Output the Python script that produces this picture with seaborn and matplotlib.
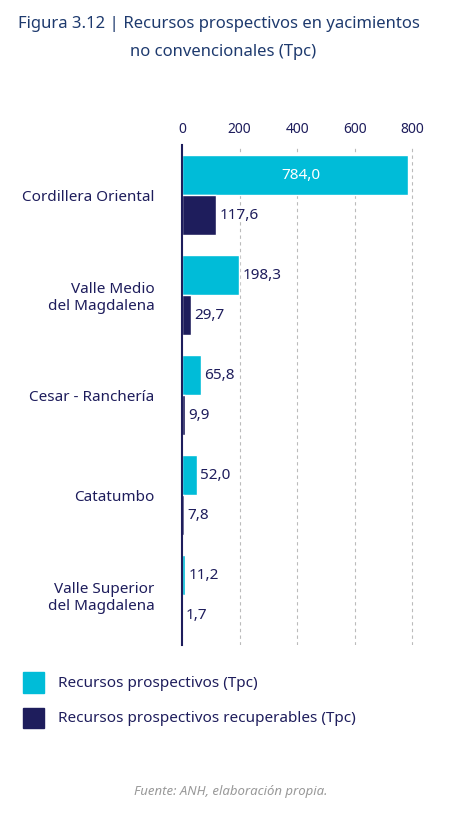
import numpy as np
import pandas as pd
import matplotlib.pyplot as plt
import seaborn as sns
from matplotlib.patches import Rectangle

cuencas = ['Cordillera Oriental', 'Valle Medio\ndel Magdalena', 'Cesar - Ranchería',
           'Catatumbo', 'Valle Superior\ndel Magdalena']
prospectivos = [784.0, 198.3, 65.8, 52.0, 11.2]
recuperables = [117.6, 29.7, 9.9, 7.8, 1.7]
series = ['Recursos prospectivos (Tpc)', 'Recursos prospectivos recuperables (Tpc)']
colores = ['#00bcd8', '#1e1d5c']

df = pd.DataFrame({
    'cuenca': cuencas * 2,
    'valor': prospectivos + recuperables,
    'serie': [series[0]] * 5 + [series[1]] * 5,
})

sns.set_style('white')
plt.rcParams['font.family'] = ['Noto Sans', 'DejaVu Sans']

fig = plt.figure(figsize=(4.62, 8.25), dpi=100)
ax = fig.add_axes([0.394, 0.218, 0.53, 0.606])
sns.barplot(data=df, x='valor', y='cuenca', hue='serie', palette=colores,
            orient='h', width=0.8, ax=ax, legend=False, saturation=1)

ax.set_xlim(0, 850)
ax.set_ylim(4.5, -0.5)
ax.set_xticks([0, 200, 400, 600, 800])
ax.xaxis.tick_top()
ax.tick_params(axis='x', length=0, labelsize=10, colors='#1e1d5c', pad=6)
ax.tick_params(axis='y', length=0, labelsize=11, colors='#1e1d5c', pad=20)
ax.set_xlabel('')
ax.set_ylabel('')
for x in [200, 400, 600, 800]:
    ax.axvline(x, color='#bbbbbb', lw=0.8, ls=(0, (3, 3)), zorder=0)
for s in ['top', 'right', 'bottom']:
    ax.spines[s].set_visible(False)
ax.spines['left'].set_color('#1e1d5c')
ax.spines['left'].set_linewidth(1.5)

def fmt(v):
    return f'{v:.1f}'.replace('.', ',')

for i, (p, r) in enumerate(zip(prospectivos, recuperables)):
    if p > 600:
        ax.text(p / 2 + 20, i - 0.2, fmt(p), color='white', va='center', ha='center', fontsize=11)
    else:
        ax.text(p + 12, i - 0.2, fmt(p), color='#1e1d5c', va='center', fontsize=11)
    ax.text(r + 12, i + 0.2, fmt(r), color='#1e1d5c', va='center', fontsize=11)

t1 = fig.text(0.04, 0.966, 'Figura 3.12 |', fontsize=12, fontweight='bold', color='#1e3a6e')
fig.text(0.048, 0.966, '', fontsize=12)
ax.annotate(' Recursos prospectivos en yacimientos', xy=(1, 0), xycoords=t1,
            fontsize=12, color='#1e3a6e', va='bottom', ha='left', annotation_clip=False)
fig.text(0.282, 0.932, 'no convencionales (Tpc)', fontsize=12, color='#1e3a6e')

for k, (lab, c) in enumerate(zip(series, colores)):
    y = 0.172 - k * 0.043
    fig.patches.append(Rectangle((0.05, y - 0.012), 0.045, 0.025, transform=fig.transFigure,
                                 color=c, figure=fig))
    fig.text(0.125, y, lab, fontsize=11, color='#1e1d5c', va='center')

fig.text(0.5, 0.036, 'Fuente: ANH, elaboración propia.', fontsize=9.5, color='#999999',
         style='italic', ha='center')

fig.savefig('out.png', dpi=100)
